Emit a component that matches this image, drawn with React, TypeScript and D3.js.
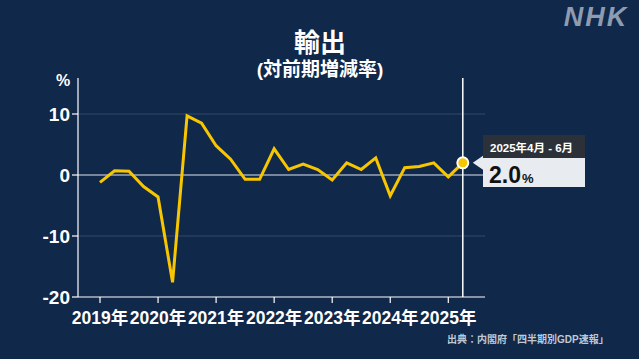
import React from "react";
import * as d3 from "d3";

const years = ["2019", "2020", "2021", "2022", "2023", "2024", "2025"];
const quarters = [
  "2019Q1","2019Q2","2019Q3","2019Q4",
  "2020Q1","2020Q2","2020Q3","2020Q4",
  "2021Q1","2021Q2","2021Q3","2021Q4",
  "2022Q1","2022Q2","2022Q3","2022Q4",
  "2023Q1","2023Q2","2023Q3","2023Q4",
  "2024Q1","2024Q2","2024Q3","2024Q4",
  "2025Q1","2025Q2",
];
const values = [
  -1.2, 0.7, 0.6, -1.9,
  -3.6, -17.6, 9.7, 8.5,
  4.8, 2.6, -0.7, -0.7,
  4.3, 0.9, 1.8, 0.9,
  -0.8, 2.0, 0.9, 2.8,
  -3.4, 1.2, 1.4, 2.0,
  -0.3, 2.0,
];
const yTicks = [10, 0, -10, -20];
const lastLabel = "2025年4月 - 6月";
const lastValueText = "2.0";

const W = 639;
const H = 359;
const BG = "#10284a";
const FONT = "'Liberation Sans', 'Noto Sans CJK JP', sans-serif";

export default function App() {
  const x = d3.scaleLinear().domain([0, quarters.length - 1]).range([100, 462.8]);
  const y = d3.scaleLinear().domain([-20, 10]).range([297, 114]);
  const line = d3
    .line<number>()
    .x((_, i) => x(i))
    .y((d) => y(d));
  const lastI = values.length - 1;
  const lx = x(lastI);
  const ly = y(values[lastI]);
  const axisLeft = 78;
  const axisRight = 485;

  return (
    <svg
      width={W}
      height={H}
      style={{ position: "fixed", left: 0, top: 0, display: "block" }}
      fontFamily={FONT}
    >
      <rect width={W} height={H} fill={BG} />
      {/* NHK logo */}
      <text x={596} y={26} textAnchor="middle" fill="#8e9bb0" fontSize={27} fontWeight={900} fontStyle="italic" letterSpacing={2}>
        NHK
      </text>
      {/* title */}
      <text x={320} y={52} textAnchor="middle" fill="#fff" fontSize={26} fontWeight={700}>
        輸出
      </text>
      <text x={320} y={76} textAnchor="middle" fill="#fff" fontSize={19} fontWeight={700}>
        (対前期増減率)
      </text>
      {/* % label */}
      <text x={63} y={86} textAnchor="middle" fill="#fff" fontSize={16} fontWeight={700}>
        %
      </text>
      {/* grid */}
      {yTicks.filter((t) => t !== -20).map((t) => (
        <line
          key={t}
          x1={axisLeft}
          x2={axisRight}
          y1={y(t)}
          y2={y(t)}
          stroke={t === 0 ? "#9aa6b8" : "#34496a"}
          strokeWidth={t === 0 ? 1.5 : 1}
        />
      ))}
      {/* y axis */}
      <line x1={axisLeft} x2={axisLeft} y1={78} y2={297} stroke="#fff" strokeWidth={1.2} />
      {yTicks.map((t) => (
        <g key={t}>
          <line x1={72} x2={axisLeft} y1={y(t)} y2={y(t)} stroke="#fff" strokeWidth={1.2} />
          <text x={70} y={y(t) + 6.8} textAnchor="end" fill="#fff" fontSize={19} fontWeight={700}>
            {t}
          </text>
        </g>
      ))}
      {/* x axis */}
      <line x1={axisLeft} x2={axisRight} y1={297} y2={297} stroke="#fff" strokeWidth={1.2} />
      {years.map((yr, k) => {
        const xi = x(k * 4);
        return (
          <g key={yr}>
            <line x1={xi} x2={xi} y1={297} y2={303} stroke="#fff" strokeWidth={1.2} />
            <text x={xi} y={324} textAnchor="middle" fill="#fff" fontSize={17.5} fontWeight={700}>
              {yr}年
            </text>
          </g>
        );
      })}
      {/* vertical marker */}
      <line x1={lx} x2={lx} y1={78} y2={297} stroke="#fff" strokeWidth={1.5} />
      {/* data line */}
      <path d={line(values) || ""} fill="none" stroke="#f7c600" strokeWidth={3} strokeLinejoin="miter" />
      <circle cx={lx} cy={ly} r={5.5} fill="#f7c600" stroke="#fff" strokeWidth={2} />
      {/* tooltip */}
      <polygon points={`${lx + 10},${ly} ${483},${ly - 7} ${483},${ly + 7}`} fill="#e8ebef" />
      <rect x={483} y={135} width={102} height={23} fill="#2c3139" />
      <rect x={483} y={158} width={102} height={29} fill="#e8ebef" />
      <text x={490} y={152} fill="#fff" fontSize={11.5} fontWeight={700}>
        {lastLabel}
      </text>
      <text x={489} y={183} fill="#111" fontSize={23} fontWeight={700}>
        {lastValueText}
        <tspan fontSize={13} dx={1}>%</tspan>
      </text>
      {/* source */}
      <text x={447} y={343} fill="#c0c8d4" fontSize={10} fontWeight={700}>
        出典：内閣府「四半期別GDP速報」
      </text>
    </svg>
  );
}
